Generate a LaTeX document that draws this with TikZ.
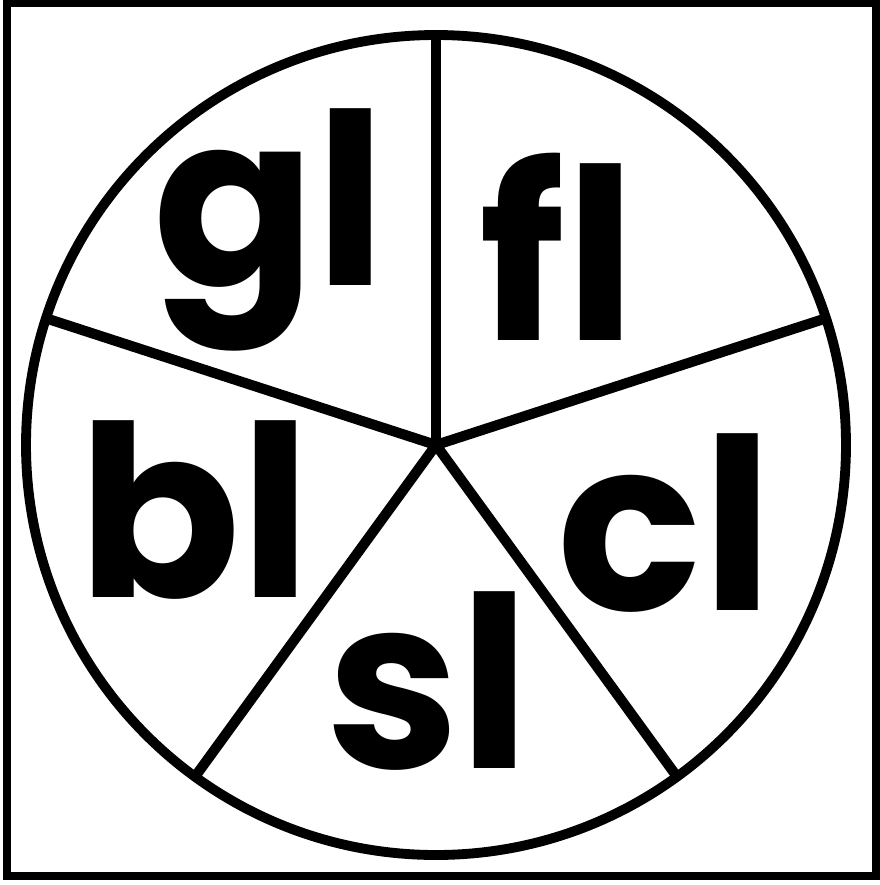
\documentclass[tikz,border=0pt]{standalone}
\usepackage{fontspec}
\newfontfamily\spinfont{Poppins}
\tikzset{
    blend/.style={font=\spinfont\bfseries\fontsize{68}{68}\selectfont, anchor=base, inner sep=0pt},
    spoke/.style={line width=2.9pt}
}
\begin{document}
\begin{tikzpicture}[x=0.1mm,y=-0.1mm]
            \useasboundingbox (0,0) rectangle (879,885);
            \draw[line width=2.5pt] (7,3) rectangle (876,876);
            \coordinate (c) at (436,445);
            \draw[line width=2.8pt] (c) circle[radius=4.1cm];
            \draw[spoke] (c) -- ++(90:4.1cm);
            \draw[spoke] (c) -- ++(162:4.1cm);
            \draw[spoke] (c) -- ++(234:4.1cm);
            \draw[spoke] (c) -- ++(306:4.1cm);
            \draw[spoke] (c) -- ++(18:4.1cm);
            \node[blend] (gl) at (270,285) {gl};
            \node[blend] (fl) at (558,340) {fl};
            \node[blend] (bl) at (195,597) {bl};
            \node[blend] (cl) at (665,610) {cl};
            \node[blend] (sl) at (428,768) {sl};
\end{tikzpicture}
\end{document}
